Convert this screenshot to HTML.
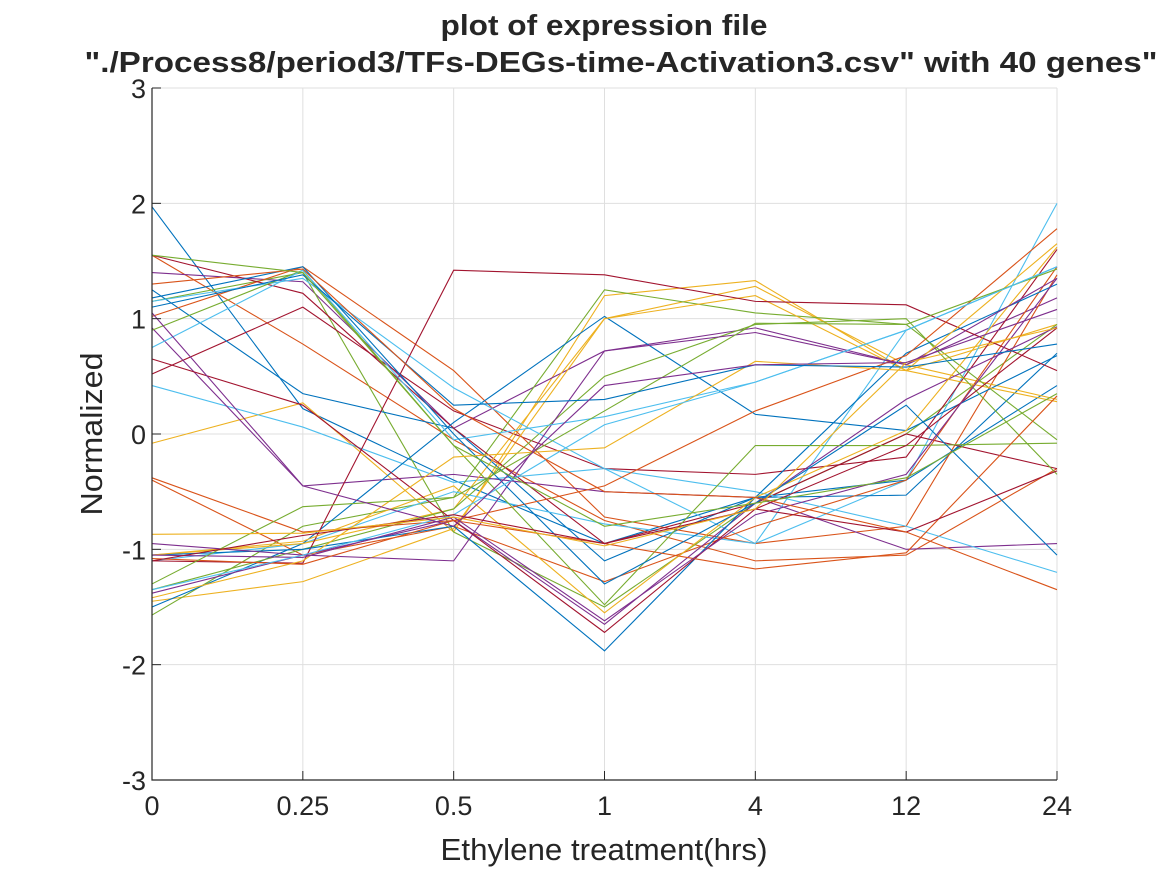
<!DOCTYPE html>
<html><head><meta charset="utf-8"><style>
body{margin:0;background:#fff;}
svg text{font-family:"Liberation Sans",sans-serif;fill:#262626;}
</style></head><body>
<svg id="chart" width="1167" height="875">
<rect width="1167" height="875" fill="#fff"/>
<g id="grid"></g><g id="lines"></g><g id="axes"></g>
<text x="604" y="35" text-anchor="middle" font-size="29" font-weight="bold" textLength="327" lengthAdjust="spacingAndGlyphs">plot of expression file</text>
<text x="621" y="72" text-anchor="middle" font-size="29" font-weight="bold" textLength="1073" lengthAdjust="spacingAndGlyphs">"./Process8/period3/TFs-DEGs-time-Activation3.csv" with 40 genes"</text>
<text x="604" y="860" text-anchor="middle" font-size="31" textLength="327" lengthAdjust="spacingAndGlyphs">Ethylene treatment(hrs)</text>
<text transform="translate(102,434) rotate(-90)" text-anchor="middle" font-size="31" textLength="163" lengthAdjust="spacingAndGlyphs">Normalized</text>
</svg>
<script>
const categories=["0","0.25","0.5","1","4","12","24"];
const yTicks=[-3,-2,-1,0,1,2,3];
const s1=[1.97,0.22,-0.4,-0.95,-0.55,-0.4,0.42];
const s2=[1.55,0.78,-0.05,-0.75,-1.1,-1.05,-0.3];
const s3=[-0.08,0.27,-0.85,1.2,1.33,0.55,0.95];
const s4=[1.4,1.32,0.05,0.72,0.92,0.6,1.18];
const s5=[1.15,1.4,-0.85,-1.5,-0.6,0.0,0.95];
const s6=[0.42,0.06,-0.42,-0.3,-0.95,-0.4,2.0];
const s7=[0.52,1.1,0.2,-0.3,-0.35,-0.2,1.6];
const s8=[1.25,0.35,0.05,-1.1,-0.55,-0.53,0.7];
const s9=[1.02,1.45,0.55,-0.72,-0.95,-0.8,1.38];
const s10=[-1.45,-1.28,-0.82,1.0,1.28,0.6,0.3];
const s11=[0.92,-0.45,-0.35,-0.5,-0.55,-1.0,-0.95];
const s12=[-1.57,-0.8,-0.55,1.25,1.05,0.95,-0.05];
const s13=[-1.1,-0.95,-0.5,-0.78,-0.95,0.9,1.45];
const s14=[1.55,1.22,0.05,-0.95,-0.6,0.0,-0.3];
const s15=[-1.5,-0.95,0.1,1.02,0.17,0.03,0.68];
const s16=[-0.4,-1.05,-0.8,-1.28,-0.8,-0.4,1.45];
const s17=[-1.05,-0.95,-0.65,1.0,1.2,0.55,0.28];
const s18=[-1.38,-1.05,-0.75,-1.65,-0.6,0.3,0.93];
const s19=[-1.35,-1.0,-0.65,0.5,0.95,1.0,-0.35];
const s20=[1.15,1.35,0.4,-0.3,-0.5,-0.8,-1.2];
const s21=[-1.1,-1.12,1.42,1.38,1.15,1.12,0.55];
const s22=[-1.05,-1.0,-0.8,-1.88,-0.55,0.7,1.3];
const s23=[-0.38,-0.85,-0.75,-0.45,0.2,0.68,1.78];
const s24=[-1.05,-0.93,-0.45,-1.55,-0.55,0.03,1.62];
const s25=[-0.95,-1.05,-1.1,0.72,0.88,0.6,1.35];
const s26=[0.9,1.42,-0.1,-1.48,-0.1,-0.1,-0.08];
const s27=[0.75,1.42,-0.05,0.15,0.45,0.9,1.45];
const s28=[0.65,0.25,-0.75,-1.72,-0.65,-0.1,0.92];
const s29=[1.18,1.45,0.0,-1.3,-0.6,0.25,-1.05];
const s30=[-1.08,-1.13,-0.75,-0.95,-1.17,-1.03,0.33];
const s31=[-1.42,-1.1,-0.2,-0.12,0.63,0.55,1.65];
const s32=[-1.05,-1.07,-0.72,-1.62,-0.7,-0.35,1.35];
const s33=[-1.3,-0.63,-0.55,0.2,0.96,0.95,1.43];
const s34=[-1.35,-1.05,-0.7,0.08,0.45,0.9,1.45];
const s35=[-1.1,-0.88,-0.7,-0.95,-0.65,-0.85,-0.32];
const s36=[1.1,1.38,0.25,0.3,0.6,0.58,0.78];
const s37=[1.3,1.43,0.22,-0.5,-0.55,-0.85,-1.35];
const s38=[-0.87,-0.86,-0.72,-0.97,-0.65,0.62,0.92];
const s39=[1.05,-0.45,-0.8,0.42,0.6,0.62,1.08];
const s40=[1.55,1.4,-0.1,-0.8,-0.6,-0.38,0.35];
const series=[s1,s2,s3,s4,s5,s6,s7,s8,s9,s10,s11,s12,s13,s14,s15,s16,s17,s18,s19,s20,s21,s22,s23,s24,s25,s26,s27,s28,s29,s30,s31,s32,s33,s34,s35,s36,s37,s38,s39,s40];
const colors=["#0072BD","#D95319","#EDB120","#7E2F8E","#77AC30","#4DBEEE","#A2142F"];
const X0=152,X1=1057,Y0=780,Y1=88;
const xs=i=>X0+(X1-X0)*i/(categories.length-1);
const ys=v=>Y0-(v+3)/6*(Y0-Y1);
const NS="http://www.w3.org/2000/svg";
const grid=document.getElementById('grid'),lines=document.getElementById('lines'),axes=document.getElementById('axes');
function mk(tag,attrs,parent){const e=document.createElementNS(NS,tag);for(const k in attrs)e.setAttribute(k,attrs[k]);parent.appendChild(e);return e;}
categories.forEach((c,i)=>{
  const g=mk('line',{x1:xs(i),x2:xs(i),y1:Y1,y2:Y0,stroke:'#dfdfdf','stroke-width':1},grid);
  
  
  const t=mk('line',{x1:xs(i),x2:xs(i),y1:Y0,y2:Y0-9,stroke:'#262626'},axes);
  
  
  const l=mk('text',{x:xs(i),y:Y0+35,'text-anchor':'middle','font-size':27},axes);
  l.textContent=c;
  
  
});
yTicks.forEach(v=>{
  const g=mk('line',{x1:X0,x2:X1,y1:ys(v),y2:ys(v),stroke:'#dfdfdf','stroke-width':1},grid);
  
  
  const t=mk('line',{x1:X0,x2:X0+9,y1:ys(v),y2:ys(v),stroke:'#262626'},axes);
  
  
  const l=mk('text',{x:X0-6,y:ys(v)+10,'text-anchor':'end','font-size':27},axes);
  l.textContent=String(v);
  
  
});
const ax=mk('path',{d:`M${X0},${Y1}V${Y0}H${X1}`,fill:'none',stroke:'#262626','stroke-width':1.2},axes);


series.forEach((s,k)=>{
  const p=mk('polyline',{points:s.map((v,i)=>xs(i)+','+ys(v)).join(' '),fill:'none',stroke:colors[k%7],'stroke-width':1.1},lines);
  
  
});
</script>
</body></html>
